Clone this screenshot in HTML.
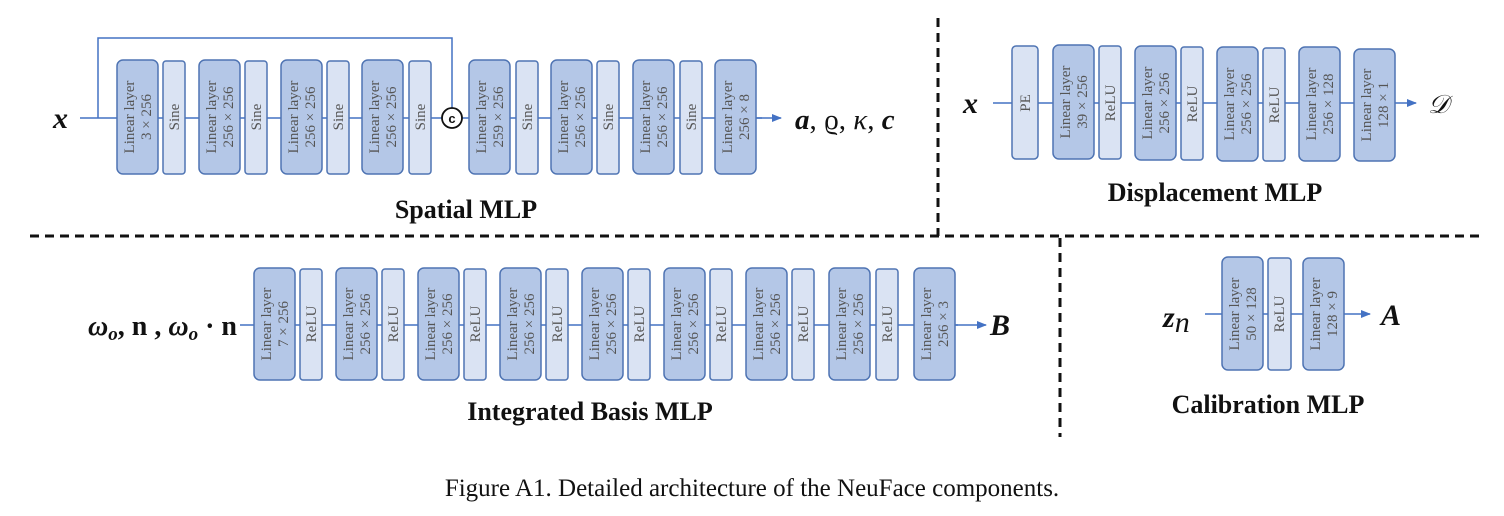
<!DOCTYPE html>
<html><head><meta charset="utf-8">
<style>
html,body{margin:0;padding:0;background:#fff;}
svg{display:block;}
.L{fill:#b4c7e7;stroke:#4f74b3;stroke-width:1.5;}
.R{fill:#dae3f3;stroke:#4f74b3;stroke-width:1.5;}
.t{font-family:"Liberation Serif",serif;font-size:15px;fill:#555;text-anchor:middle;}
.ln{stroke:#4472c4;stroke-width:1.5;fill:none;}
.ttl{font-family:"Liberation Serif",serif;font-size:26px;font-weight:bold;text-anchor:middle;fill:#111;}
.m{font-family:"Liberation Serif","DejaVu Serif",serif;font-size:30px;font-weight:bold;font-style:italic;fill:#111;}
.d{stroke:#111;stroke-width:3;stroke-dasharray:9,6;}
</style></head><body>
<svg width="1504" height="516" viewBox="0 0 1504 516" xmlns="http://www.w3.org/2000/svg">
<defs><marker id="a" markerWidth="10" markerHeight="10" refX="9" refY="5" orient="auto" markerUnits="userSpaceOnUse"><path d="M0,1 L10,5 L0,9 z" fill="#4472c4"/></marker></defs>

<line class="d" x1="938" y1="18" x2="938" y2="236"/>
<line class="d" x1="30" y1="236" x2="1482" y2="236"/>
<line class="d" x1="1060" y1="238" x2="1060" y2="437"/>

<!-- Spatial MLP -->
<line class="ln" x1="80" y1="118" x2="117" y2="118"/>
<polyline class="ln" points="98,118 98,38 452,38 452,108"/>
<line class="ln" x1="158" y1="118" x2="762" y2="118"/>
<line class="ln" x1="756" y1="118" x2="781" y2="118" marker-end="url(#a)"/>
<text class="m" x="53" y="128">x</text>
<text x="795" y="129" style="font-family:'Liberation Serif','DejaVu Serif',serif;font-size:29px;fill:#111"><tspan font-weight="bold" font-style="italic">a</tspan>, ϱ, <tspan font-style="italic">κ</tspan>, <tspan font-weight="bold" font-style="italic">c</tspan></text>

<g>
<rect class="L" x="117" y="60" width="41" height="114" rx="6"/>
<rect class="R" x="163" y="61" width="22" height="113" rx="3"/>
<rect class="L" x="199" y="60" width="41" height="114" rx="6"/>
<rect class="R" x="245" y="61" width="22" height="113" rx="3"/>
<rect class="L" x="281" y="60" width="41" height="114" rx="6"/>
<rect class="R" x="327" y="61" width="22" height="113" rx="3"/>
<rect class="L" x="362" y="60" width="41" height="114" rx="6"/>
<rect class="R" x="409" y="61" width="22" height="113" rx="3"/>
<rect class="L" x="469" y="60" width="41" height="114" rx="6"/>
<rect class="R" x="516" y="61" width="22" height="113" rx="3"/>
<rect class="L" x="551" y="60" width="41" height="114" rx="6"/>
<rect class="R" x="597" y="61" width="22" height="113" rx="3"/>
<rect class="L" x="633" y="60" width="41" height="114" rx="6"/>
<rect class="R" x="680" y="61" width="22" height="113" rx="3"/>
<rect class="L" x="715" y="60" width="41" height="114" rx="6"/>
</g>
<circle cx="452" cy="118" r="10" fill="#fff" stroke="#111" stroke-width="1.8"/>
<text x="452" y="123" text-anchor="middle" style="font-family:'Liberation Sans',sans-serif;font-size:13px;font-weight:bold;fill:#111">c</text>

<g class="t">
<text transform="translate(137,117) rotate(-90)"><tspan x="0" y="-3">Linear layer</tspan><tspan x="0" y="14">3 × 256</tspan></text>
<text transform="translate(174,117) rotate(-90)" y="5">Sine</text>
<text transform="translate(219,117) rotate(-90)"><tspan x="0" y="-3">Linear layer</tspan><tspan x="0" y="14">256 × 256</tspan></text>
<text transform="translate(256,117) rotate(-90)" y="5">Sine</text>
<text transform="translate(301,117) rotate(-90)"><tspan x="0" y="-3">Linear layer</tspan><tspan x="0" y="14">256 × 256</tspan></text>
<text transform="translate(338,117) rotate(-90)" y="5">Sine</text>
<text transform="translate(382,117) rotate(-90)"><tspan x="0" y="-3">Linear layer</tspan><tspan x="0" y="14">256 × 256</tspan></text>
<text transform="translate(420,117) rotate(-90)" y="5">Sine</text>
<text transform="translate(489,117) rotate(-90)"><tspan x="0" y="-3">Linear layer</tspan><tspan x="0" y="14">259 × 256</tspan></text>
<text transform="translate(527,117) rotate(-90)" y="5">Sine</text>
<text transform="translate(571,117) rotate(-90)"><tspan x="0" y="-3">Linear layer</tspan><tspan x="0" y="14">256 × 256</tspan></text>
<text transform="translate(608,117) rotate(-90)" y="5">Sine</text>
<text transform="translate(653,117) rotate(-90)"><tspan x="0" y="-3">Linear layer</tspan><tspan x="0" y="14">256 × 256</tspan></text>
<text transform="translate(691,117) rotate(-90)" y="5">Sine</text>
<text transform="translate(735,117) rotate(-90)"><tspan x="0" y="-3">Linear layer</tspan><tspan x="0" y="14">256 × 8</tspan></text>
</g>
<text class="ttl" x="466" y="218">Spatial MLP</text>

<!-- Displacement MLP -->
<line class="ln" x1="993" y1="103" x2="1395" y2="103"/>
<line class="ln" x1="1395" y1="103" x2="1416" y2="103" marker-end="url(#a)"/>
<text class="m" x="963" y="113">x</text>
<text x="1428" y="113" style="font-family:'DejaVu Serif',serif;font-size:26px;font-style:italic;fill:#111">𝒟</text>
<rect class="R" x="1012" y="46" width="26" height="113" rx="4"/>
<rect class="L" x="1053" y="45" width="41" height="114" rx="6"/>
<rect class="R" x="1099" y="46" width="22" height="113" rx="3"/>
<rect class="L" x="1135" y="46" width="41" height="114" rx="6"/>
<rect class="R" x="1181" y="47" width="22" height="113" rx="3"/>
<rect class="L" x="1217" y="47" width="41" height="114" rx="6"/>
<rect class="R" x="1263" y="48" width="22" height="113" rx="3"/>
<rect class="L" x="1299" y="47" width="41" height="114" rx="6"/>
<rect class="L" x="1354" y="49" width="41" height="112" rx="6"/>
<g class="t">
<text transform="translate(1025,103) rotate(-90)" y="5">PE</text>
<text transform="translate(1073,102) rotate(-90)"><tspan x="0" y="-3">Linear layer</tspan><tspan x="0" y="14">39 × 256</tspan></text>
<text transform="translate(1110,103) rotate(-90)" y="5">ReLU</text>
<text transform="translate(1155,103) rotate(-90)"><tspan x="0" y="-3">Linear layer</tspan><tspan x="0" y="14">256 × 256</tspan></text>
<text transform="translate(1192,104) rotate(-90)" y="5">ReLU</text>
<text transform="translate(1237,104) rotate(-90)"><tspan x="0" y="-3">Linear layer</tspan><tspan x="0" y="14">256 × 256</tspan></text>
<text transform="translate(1274,105) rotate(-90)" y="5">ReLU</text>
<text transform="translate(1319,104) rotate(-90)"><tspan x="0" y="-3">Linear layer</tspan><tspan x="0" y="14">256 × 128</tspan></text>
<text transform="translate(1374,105) rotate(-90)"><tspan x="0" y="-3">Linear layer</tspan><tspan x="0" y="14">128 × 1</tspan></text>
</g>
<text class="ttl" x="1215" y="201">Displacement MLP</text>

<!-- Integrated Basis MLP -->
<line class="ln" x1="240" y1="325" x2="958" y2="325"/>
<line class="ln" x1="955" y1="325" x2="986" y2="325" marker-end="url(#a)"/>
<text x="88" y="335" style="font-family:'Liberation Serif','DejaVu Serif',serif;font-size:28px;font-weight:bold;fill:#111"><tspan font-style="italic">ω</tspan><tspan font-size="19" dy="5" font-style="italic">o</tspan><tspan dy="-5">, n , </tspan><tspan font-style="italic">ω</tspan><tspan font-size="19" dy="5" font-style="italic">o</tspan><tspan dy="-5"> · n</tspan></text>
<text class="m" x="990" y="335">B</text>
<g>
<rect class="L" x="254" y="268" width="41" height="112" rx="6"/><rect class="R" x="300" y="269" width="22" height="111" rx="3"/>
<rect class="L" x="336" y="268" width="41" height="112" rx="6"/><rect class="R" x="382" y="269" width="22" height="111" rx="3"/>
<rect class="L" x="418" y="268" width="41" height="112" rx="6"/><rect class="R" x="464" y="269" width="22" height="111" rx="3"/>
<rect class="L" x="500" y="268" width="41" height="112" rx="6"/><rect class="R" x="546" y="269" width="22" height="111" rx="3"/>
<rect class="L" x="582" y="268" width="41" height="112" rx="6"/><rect class="R" x="628" y="269" width="22" height="111" rx="3"/>
<rect class="L" x="664" y="268" width="41" height="112" rx="6"/><rect class="R" x="710" y="269" width="22" height="111" rx="3"/>
<rect class="L" x="746" y="268" width="41" height="112" rx="6"/><rect class="R" x="792" y="269" width="22" height="111" rx="3"/>
<rect class="L" x="829" y="268" width="41" height="112" rx="6"/><rect class="R" x="876" y="269" width="22" height="111" rx="3"/>
<rect class="L" x="914" y="268" width="41" height="112" rx="6"/>
</g>
<g class="t">
<text transform="translate(274,324) rotate(-90)"><tspan x="0" y="-3">Linear layer</tspan><tspan x="0" y="14">7 × 256</tspan></text>
<text transform="translate(311,324) rotate(-90)" y="5">ReLU</text>
<text transform="translate(356,324) rotate(-90)"><tspan x="0" y="-3">Linear layer</tspan><tspan x="0" y="14">256 × 256</tspan></text>
<text transform="translate(393,324) rotate(-90)" y="5">ReLU</text>
<text transform="translate(438,324) rotate(-90)"><tspan x="0" y="-3">Linear layer</tspan><tspan x="0" y="14">256 × 256</tspan></text>
<text transform="translate(475,324) rotate(-90)" y="5">ReLU</text>
<text transform="translate(520,324) rotate(-90)"><tspan x="0" y="-3">Linear layer</tspan><tspan x="0" y="14">256 × 256</tspan></text>
<text transform="translate(557,324) rotate(-90)" y="5">ReLU</text>
<text transform="translate(602,324) rotate(-90)"><tspan x="0" y="-3">Linear layer</tspan><tspan x="0" y="14">256 × 256</tspan></text>
<text transform="translate(639,324) rotate(-90)" y="5">ReLU</text>
<text transform="translate(684,324) rotate(-90)"><tspan x="0" y="-3">Linear layer</tspan><tspan x="0" y="14">256 × 256</tspan></text>
<text transform="translate(721,324) rotate(-90)" y="5">ReLU</text>
<text transform="translate(766,324) rotate(-90)"><tspan x="0" y="-3">Linear layer</tspan><tspan x="0" y="14">256 × 256</tspan></text>
<text transform="translate(803,324) rotate(-90)" y="5">ReLU</text>
<text transform="translate(849,324) rotate(-90)"><tspan x="0" y="-3">Linear layer</tspan><tspan x="0" y="14">256 × 256</tspan></text>
<text transform="translate(887,324) rotate(-90)" y="5">ReLU</text>
<text transform="translate(934,324) rotate(-90)"><tspan x="0" y="-3">Linear layer</tspan><tspan x="0" y="14">256 × 3</tspan></text>
</g>
<text class="ttl" x="590" y="420">Integrated Basis MLP</text>

<!-- Calibration MLP -->
<line class="ln" x1="1205" y1="314" x2="1344" y2="314"/>
<line class="ln" x1="1344" y1="314" x2="1370" y2="314" marker-end="url(#a)"/>
<text x="1163" y="327" style="font-family:'Liberation Serif','DejaVu Serif',serif;font-size:30px;fill:#111"><tspan font-weight="bold" font-style="italic">z</tspan><tspan font-style="italic" dy="5">n</tspan></text>
<text class="m" x="1381" y="325">A</text>
<rect class="L" x="1222" y="257" width="41" height="113" rx="6"/>
<rect class="R" x="1268" y="258" width="23" height="112" rx="3"/>
<rect class="L" x="1303" y="258" width="41" height="112" rx="6"/>
<g class="t">
<text transform="translate(1242,314) rotate(-90)"><tspan x="0" y="-3">Linear layer</tspan><tspan x="0" y="14">50 × 128</tspan></text>
<text transform="translate(1279,314) rotate(-90)" y="5">ReLU</text>
<text transform="translate(1323,314) rotate(-90)"><tspan x="0" y="-3">Linear layer</tspan><tspan x="0" y="14">128 × 9</tspan></text>
</g>
<text class="ttl" x="1268" y="413">Calibration MLP</text>

<text x="752" y="496" text-anchor="middle" style="font-family:'Liberation Serif',serif;font-size:25px;fill:#111">Figure A1. Detailed architecture of the NeuFace components.</text>
</svg>
</body></html>
